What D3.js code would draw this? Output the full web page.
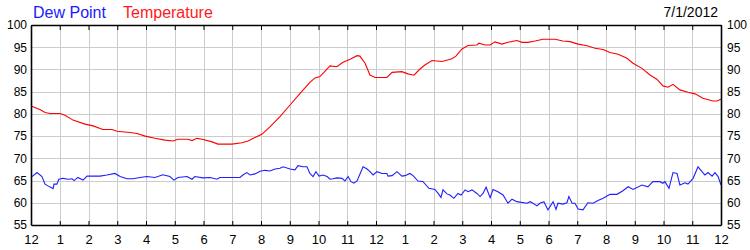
<!DOCTYPE html>
<html>
  <head>
    <meta charset="utf-8">
    <title>Dew point and temperature</title>
    <script src="https://d3js.org/d3.v7.min.js"></script>
    <style>
      body { margin: 0; background: #fff; }
      svg { display: block; font-family: Arial, "Liberation Sans", sans-serif; }
      .grid line { stroke: #cccccc; stroke-width: 1; }
      .axis text { fill: #000; font-size: 12px; }
      .xlab text { fill: #000; font-size: 13px; }
    </style>
  </head>
  <body>
    <svg id="chart" width="750" height="250"></svg>
    <script>
      // hour of day, degrees F
      temperature = [
        [0, 81.8], [0.31, 81.0], [0.49, 80.3], [0.66, 80.1], [1.01, 80.1], [1.18, 79.7], [1.46, 78.6],
        [1.88, 77.7], [2.16, 77.3], [2.5, 76.5], [2.82, 76.5], [2.99, 76.1], [3.44, 75.8], [3.69, 75.6],
        [3.97, 75.0], [4.31, 74.5], [4.66, 74.1], [4.94, 73.9], [5.11, 74.3], [5.46, 74.3], [5.6, 74.0],
        [5.77, 74.5], [5.95, 74.3], [6.3, 73.7], [6.5, 73.2], [6.99, 73.2], [7.34, 73.5], [7.55, 73.9],
        [7.79, 74.7], [8.03, 75.4], [8.31, 77.1], [8.66, 79.4], [9.01, 82.0], [9.36, 84.6], [9.7, 87.1],
        [9.88, 88.1], [10.05, 88.4], [10.23, 89.6], [10.4, 90.8], [10.64, 90.6], [10.85, 91.6], [11.1, 92.3],
        [11.34, 93.1], [11.44, 93.0], [11.62, 91.4], [11.79, 88.75], [11.97, 88.2], [12.38, 88.2],
        [12.56, 89.35], [12.9, 89.5], [13.11, 89.0], [13.32, 88.7], [13.53, 90.1], [13.7, 91.0],
        [13.95, 92.0], [14.3, 91.8], [14.64, 92.4], [14.78, 93.0], [14.99, 94.6], [15.2, 95.4],
        [15.51, 95.5], [15.58, 95.9], [15.79, 95.5], [15.97, 95.5], [16.14, 96.2], [16.38, 95.7],
        [16.59, 96.1], [16.9, 96.5], [17.08, 96.1], [17.29, 96.1], [17.53, 96.4], [17.81, 96.8],
        [18.23, 96.8], [18.5, 96.4], [18.75, 96.25], [19.03, 95.7], [19.34, 95.35], [19.62, 94.75],
        [19.9, 94.5], [20.14, 93.8], [20.42, 93.4], [20.73, 92.5], [20.94, 91.4], [21.25, 90.25],
        [21.53, 88.75], [21.77, 87.8], [21.98, 86.3], [22.16, 86.0], [22.33, 86.65], [22.57, 85.4],
        [22.85, 84.85], [23.1, 84.5], [23.37, 83.5], [23.72, 82.9], [23.86, 82.9], [24, 83.3]
      ];
      dewPoint = [
        [0, 65.7], [0.21, 66.8], [0.38, 65.9], [0.49, 64.2], [0.59, 63.8], [0.77, 63.2], [0.8, 64.2],
        [0.9, 64.2], [0.97, 65.3], [1.11, 65.5], [1.29, 65.3], [1.43, 65.4], [1.5, 65.0], [1.63, 65.7],
        [1.81, 65.1], [1.95, 66.0], [2.4, 66.0], [2.64, 66.25], [2.92, 66.6], [3.1, 65.9], [3.34, 65.4],
        [3.55, 65.4], [3.79, 65.7], [4.03, 65.9], [4.31, 65.7], [4.59, 66.3], [4.83, 65.9], [4.97, 65.1],
        [5.11, 65.7], [5.43, 65.9], [5.6, 65.3], [5.7, 65.9], [5.98, 65.6], [6.23, 65.7], [6.47, 65.3],
        [6.57, 65.7], [7.27, 65.7], [7.37, 66.25], [7.51, 66.8], [7.62, 66.25], [7.79, 66.5], [7.97, 67.1],
        [8.14, 67.3], [8.31, 67.15], [8.49, 67.6], [8.66, 67.75], [8.77, 68.1], [9.01, 67.6], [9.18, 67.4],
        [9.29, 68.35], [9.46, 68.1], [9.6, 68.1], [9.7, 66.6], [9.81, 65.9], [9.91, 67.0], [10.02, 66.0],
        [10.16, 66.25], [10.3, 65.9], [10.4, 65.3], [10.5, 65.4], [10.64, 65.6], [10.82, 65.5],
        [10.92, 64.9], [11.03, 65.9], [11.13, 64.75], [11.23, 64.4], [11.34, 64.9], [11.44, 66.4],
        [11.55, 68.1], [11.69, 67.6], [11.79, 67.0], [11.9, 66.25], [12.03, 67.0], [12.21, 66.6],
        [12.38, 66.6], [12.42, 66.0], [12.56, 66.1], [12.73, 67.0], [12.9, 66.0], [13.01, 66.1],
        [13.18, 66.6], [13.29, 66.1], [13.46, 64.9], [13.63, 64.8], [13.84, 63.25], [14.05, 63.0],
        [14.16, 62.1], [14.26, 61.2], [14.33, 62.9], [14.47, 62.0], [14.57, 61.75], [14.71, 61.0],
        [14.85, 62.1], [14.96, 61.75], [15.1, 62.9], [15.2, 62.5], [15.34, 62.9], [15.51, 62.1],
        [15.62, 61.4], [15.72, 62.1], [15.83, 63.5], [15.97, 61.15], [16.07, 63.0], [16.24, 62.5],
        [16.42, 61.75], [16.59, 59.9], [16.73, 60.8], [16.9, 60.25], [17.25, 59.9], [17.36, 60.25],
        [17.46, 59.9], [17.6, 59.3], [17.7, 59.9], [17.84, 60.25], [17.98, 58.4], [18.16, 60.25],
        [18.26, 58.5], [18.33, 59.9], [18.5, 59.7], [18.64, 60.0], [18.71, 61.4], [18.82, 59.9],
        [18.92, 59.9], [19.03, 58.6], [19.2, 58.4], [19.37, 60.0], [19.55, 59.9], [19.72, 60.5],
        [19.9, 61.0], [20.14, 61.9], [20.38, 61.9], [20.59, 62.7], [20.77, 63.6], [20.94, 63.0],
        [21.25, 64.0], [21.46, 63.6], [21.63, 64.75], [21.88, 64.75], [21.98, 64.4], [22.05, 64.75],
        [22.19, 63.25], [22.33, 66.8], [22.47, 66.6], [22.57, 64.0], [22.75, 64.5], [22.85, 64.2],
        [23.03, 65.5], [23.2, 68.1], [23.34, 67.0], [23.44, 66.25], [23.55, 66.8], [23.69, 66.0],
        [23.79, 66.8], [23.9, 65.9], [24, 64.0]
      ];
      hourTicks = d3.range(0, 25);
      hourLabels = ["12", "1", "2", "3", "4", "5", "6", "7", "8", "9", "10", "11",
                    "12", "1", "2", "3", "4", "5", "6", "7", "8", "9", "10", "11", "12"];
      degreeTicks = [55, 60, 65, 70, 75, 80, 85, 90, 95, 100];
      dateLabel = "7/1/2012";

      margin = { top: 25, right: 29, bottom: 25, left: 31 };
      width = 750;
      height = 250;
      chart = d3.select("#chart");

      x = d3.scaleLinear().domain([0, 24]).range([margin.left, width - margin.right]);
      y = d3.scaleLinear().domain([55, 100]).range([height - margin.bottom, margin.top]);

      // gridlines
      grid = chart.append("g").classed("grid", true);
      grid.selectAll(".v")
          .data(hourTicks.slice(1, -1))
        .enter().append("line")
          .attr("x1", function(d) { return Math.round(x(d)) + 0.5; })
          .attr("x2", function(d) { return Math.round(x(d)) + 0.5; })
          .attr("y1", y(100))
          .attr("y2", y(55));
      grid.selectAll(".h")
          .data(degreeTicks.slice(1, -1))
        .enter().append("line")
          .attr("x1", x(0))
          .attr("x2", x(24))
          .attr("y1", function(d) { return Math.round(y(d)) + 0.5; })
          .attr("y2", function(d) { return Math.round(y(d)) + 0.5; });

      // series
      line = d3.line()
        .x(function(d) { return x(d[0]); })
        .y(function(d) { return y(d[1]); });
      chart.append("path")
        .datum(dewPoint)
        .attr("d", line)
        .style("fill", "none")
        .style("stroke", "#1f1fff")
        .style("stroke-width", 1.1);
      chart.append("path")
        .datum(temperature)
        .attr("d", line)
        .style("fill", "none")
        .style("stroke", "#ff0000")
        .style("stroke-width", 1.1);

      // axes
      leftAxis = d3.axisLeft(y).tickValues(degreeTicks).tickSize(0).tickPadding(4);
      rightAxis = d3.axisRight(y).tickValues(degreeTicks).tickSize(0).tickPadding(6);
      bottomAxis = d3.axisBottom(x).tickValues(hourTicks).tickSizeInner(-4).tickSizeOuter(0)
        .tickPadding(10).tickFormat(function(d) { return hourLabels[d]; });
      topAxis = d3.axisTop(x).tickValues(hourTicks).tickSizeInner(-5).tickSizeOuter(0)
        .tickFormat("");

      [
        [leftAxis, "translate(" + x(0) + ",0)"],
        [rightAxis, "translate(" + x(24) + ",0)"],
        [bottomAxis, "translate(0," + y(55) + ")"],
        [topAxis, "translate(0," + y(100) + ")"]
      ].forEach(function(a) {
        g = chart.append("g")
          .classed("axis", true)
          .attr("transform", a[1])
          .call(a[0]);
        g.select(".domain").style("stroke", "#000").style("stroke-width", 1.6);
        g.selectAll(".tick line").style("stroke", "#000");
        g.attr("font-family", null).attr("font-size", null);
      });
      chart.selectAll(".axis text").style("font-size", "12px");
      d3.select(chart.selectAll(".axis").nodes()[2]).selectAll("text").style("font-size", "13px");

      // legend and date
      legend = [["Dew Point", "#1a1aff", 33], ["Temperature", "#ff1a1a", 123]];
      chart.selectAll(".legend")
          .data(legend)
        .enter().append("text")
          .classed("legend", true)
          .attr("x", function(d) { return d[2]; })
          .attr("y", 18)
          .style("font-size", "16px")
          .style("fill", function(d) { return d[1]; })
          .text(function(d) { return d[0]; });
      chart.append("text")
        .attr("x", 718)
        .attr("y", 17)
        .attr("text-anchor", "end")
        .style("font-size", "14px")
        .style("fill", "#000")
        .text(dateLabel);
    </script>
  </body>
</html>
